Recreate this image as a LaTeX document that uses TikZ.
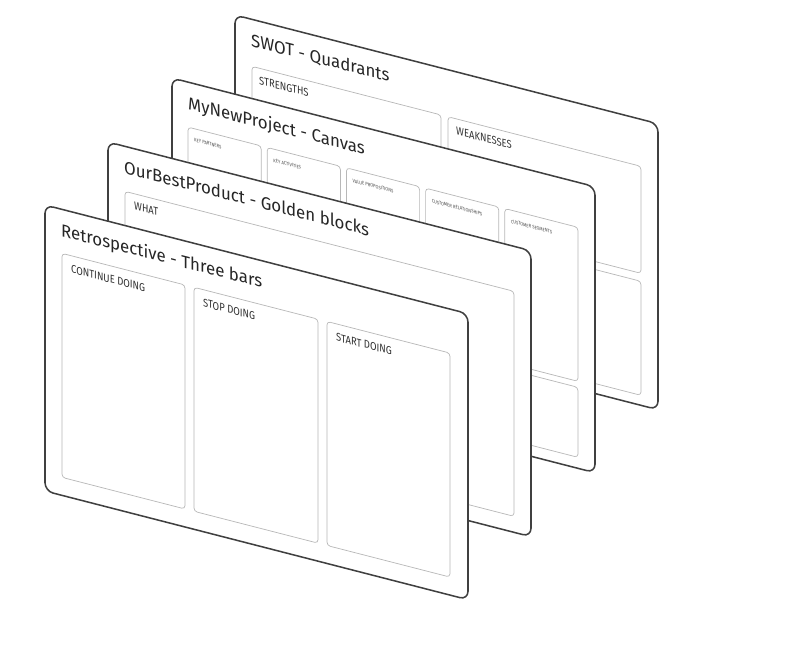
\documentclass[tikz,border=0pt]{standalone}
\usepackage{fontspec}
\setmainfont{Fira Sans}
\newfontfamily\titlefont[FakeStretch=0.96]{Fira Sans}
\newfontfamily\tagfont[FakeStretch=0.85]{Fira Sans}
\usetikzlibrary{positioning}

\begin{document}
\begin{tikzpicture}[x=0.03cm, y=-0.03cm,
  card/.style={draw=black!75, line width=1.3pt, fill=white, rounded corners=0.25cm},
  panel/.style={draw=black!28, line width=0.6pt, rounded corners=0.1cm},
  cardtitle/.style={anchor=base west, inner sep=0pt, transform shape, font=\titlefont\fontsize{15}{15}\selectfont, text=black!85},
  paneltag/.style={anchor=base west, inner sep=0pt, transform shape, font=\tagfont\fontsize{9.5}{10}\selectfont, text=black!80},
  tinytag/.style={anchor=base west, inner sep=0pt, transform shape, font=\tagfont\fontsize{4.2}{5}\selectfont, text=black!70}]
\fill[white] (0,0) rectangle (800,652);

% SWOT - Quadrants
\begin{scope}[shift={(235,15)}, yslant=-0.257]
  \draw[card] (0,0) rectangle (423,286);
  \node[cardtitle] (swot) at (16,27) {SWOT - Quadrants};
  \draw[panel] (17,47) rectangle (206,154);
  \draw[panel] (213,47) rectangle (406,154);
  \draw[panel] (17,162) rectangle (206,276);
  \draw[panel] (213,162) rectangle (406,276);
  \node[paneltag] (strengths) at (24,63) {STRENGTHS};
  \node[paneltag] (weaknesses) at (221,63) {WEAKNESSES};
\end{scope}

% MyNewProject - Canvas
\begin{scope}[shift={(172,78)}, yslant=-0.257]
  \draw[card] (0,0) rectangle (423,286);
  \node[cardtitle] (canvas) at (16,27) {MyNewProject - Canvas};
  \foreach \i/\tag in {0/KEY PARTNERS, 1/KEY ACTIVITIES, 2/VALUE PROPOSITIONS,
                       3/CUSTOMER RELATIONSHIPS, 4/CUSTOMER SEGMENTS} {
    \draw[panel] ({16+79.2*\i},45) rectangle ({89.2+79.2*\i},199);
    \node[tinytag] (block\i) at ({22+79.2*\i},58) {\tag};
  }
  \draw[panel] (16,205) rectangle (208,275);
  \draw[panel] (214,205) rectangle (406,275);
\end{scope}

% OurBestProduct - Golden blocks
\begin{scope}[shift={(108,142)}, yslant=-0.257]
  \draw[card] (0,0) rectangle (423,286);
  \node[cardtitle] (golden) at (16,27) {OurBestProduct - Golden blocks};
  \draw[panel] (17,45) rectangle (406,270);
  \node[paneltag] (what) at (26,61) {WHAT};
\end{scope}

% Retrospective - Three bars
\begin{scope}[shift={(45,205)}, yslant=-0.257]
  \draw[card] (0,0) rectangle (423,286);
  \node[cardtitle] (retro) at (16,27) {Retrospective - Three bars};
  \draw[panel] (17,44) rectangle (140,268);
  \draw[panel] (149,44) rectangle (273,268);
  \draw[panel] (282,44) rectangle (405,268);
  \node[paneltag] (continue) at (26,61) {CONTINUE DOING};
  \node[paneltag] (stop) at (158,61) {STOP DOING};
  \node[paneltag] (start) at (291,61) {START DOING};
\end{scope}
\end{tikzpicture}
\end{document}
